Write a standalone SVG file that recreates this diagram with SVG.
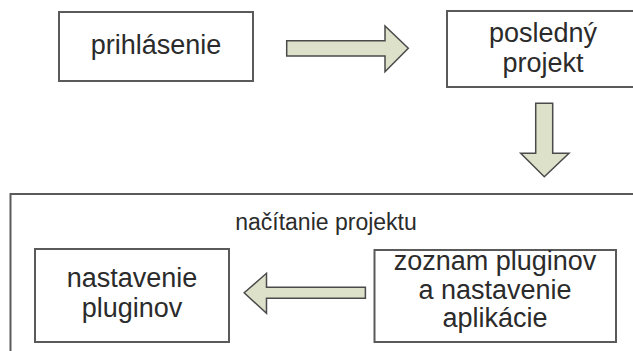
<svg xmlns="http://www.w3.org/2000/svg" width="633" height="351" viewBox="0 0 633 351">
<style>
.box{fill:#fff;stroke:#5a5a5a;stroke-width:2}
.arr{fill:#dde1c9;stroke:#4a4a4a;stroke-width:1.5;stroke-linejoin:miter}
text{font-family:"Liberation Sans",Arial,sans-serif;font-size:27px;fill:#2b2b2b;text-anchor:middle}
.small{font-size:23px}
</style>
<rect width="633" height="351" fill="#fff"/>
<g id="nacitanie-projektu">
<rect class="box" x="10.5" y="194" width="640" height="200"/>
<text class="small" x="326" y="230">načítanie projektu</text>
</g>
<g id="prihlasenie">
<rect class="box" x="59" y="12" width="194" height="69"/>
<text x="156" y="54">prihlásenie</text>
</g>
<g id="posledny-projekt">
<rect class="box" x="447" y="11" width="195" height="76"/>
<text x="543" y="42">posledný</text>
<text x="543" y="72">projekt</text>
</g>
<g id="nastavenie-pluginov">
<rect class="box" x="35" y="249" width="194" height="93"/>
<text x="132" y="287">nastavenie</text>
<text x="132" y="317">pluginov</text>
</g>
<g id="zoznam-pluginov">
<rect class="box" x="374.5" y="250" width="241.5" height="92"/>
<text x="495" y="270">zoznam pluginov</text>
<text x="495" y="298.5">a nastavenie</text>
<text x="495" y="327">aplikácie</text>
</g>
<g id="connectors">
<polygon class="arr" points="286.7,40.7 385,40.7 385,26 408.3,48.3 385,71.7 385,56 286.7,56"/>
<polygon class="arr" points="535.7,103.3 552.7,103.3 552.7,153.3 569,153.3 544.3,176.7 520.7,153.3 535.7,153.3"/>
<polygon class="arr" points="365.4,287.3 266.5,287.3 266.5,273.3 244.2,292.8 266.5,313.3 266.5,298.3 365.4,298.3"/>
</g>
</svg>
